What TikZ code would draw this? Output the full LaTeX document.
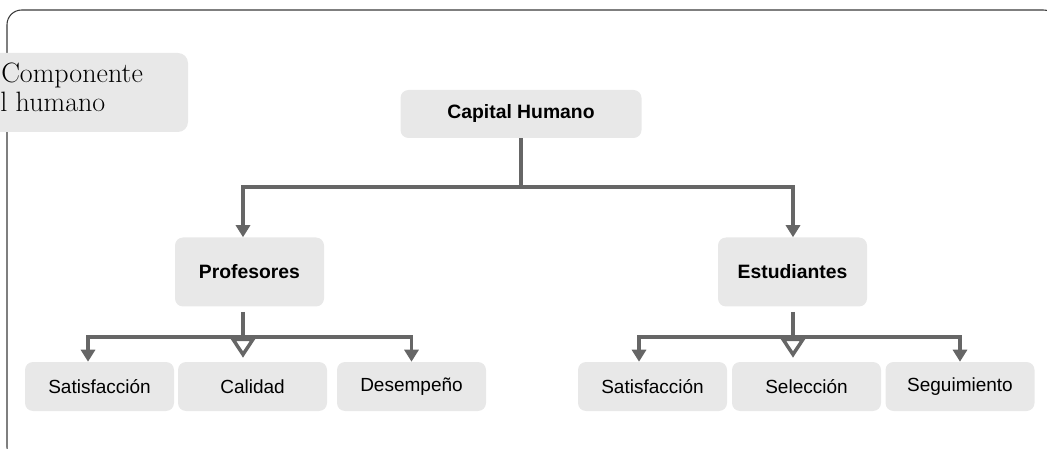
\documentclass[tikz,border=0pt]{standalone}
\usepackage{fontspec}
\setsansfont{Liberation Sans}
\usetikzlibrary{arrows.meta}
\definecolor{boxfill}{HTML}{E8E8E8}
\definecolor{linkgray}{HTML}{666666}
\definecolor{framegray}{HTML}{3A3A3A}
\begin{document}
\begin{tikzpicture}[x=0.75pt,y=-0.75pt,
  box/.style={fill=boxfill, rounded corners=6pt, inner sep=0pt,
    minimum width=111.75pt, minimum height=36.75pt,
    font=\sffamily\fontsize{14.25pt}{17pt}\selectfont},
  headbox/.style={box, minimum height=51.75pt,
    font=\sffamily\bfseries\fontsize{14.5pt}{17pt}\selectfont},
  link/.style={draw=linkgray, line width=2.6pt},
  tip/.style={-{Triangle[width=10.5pt,length=9pt]}},
  opentip/.style={-{Triangle[open,width=19pt,length=15pt]}},
  serifname/.style={inner sep=0pt, anchor=base west,
    font=\fontsize{21pt}{25pt}\selectfont},
]
\useasboundingbox (0,0) rectangle (1047,449);
\begin{scope}
\clip (0,0) rectangle (1047,449);
% outer frame
\draw[framegray, line width=0.8pt, rounded corners=11pt] (7,10) rectangle (1058,462);
% side label
\node[fill=boxfill, rounded corners=7.5pt, minimum width=156pt,
      minimum height=59.25pt, inner sep=0pt] (comp) at (84,92.5) {};
\node[serifname] (compa) at (1,83) {Componente};
\node[serifname] (compb) at (0,112) {l humano};

% tree nodes
\node[headbox, minimum width=180.75pt, minimum height=36pt] (cap) at (521,114) {Capital Humano};
\node[headbox] (prof) at (249.5,272) {Profesores};
\node[headbox] (est) at (792.5,272) {Estudiantes};

\node[box] (sat1) at (99.5,386.5) {Satisfacción};
\node[box] (cal) at (252.5,386.5) {Calidad};
\node[box] (des) at (411.5,386.5) {Desempeño};
\node[box] (sat2) at (652.5,386.5) {Satisfacción};
\node[box] (sel) at (806.5,386.5) {Selección};
\node[box] (seg) at (960,386.5) {Seguimiento};

% connector helpers
\coordinate (hub) at (521,187);
\coordinate (pcol) at (243,0);
\coordinate (psplit) at (243,337);
\coordinate (esplit) at (793,337);

% top level
\draw[link] (cap.south) -- (hub);
\draw[link,tip] (hub) -| (prof.north -| pcol);
\draw[link,tip] (hub) -| (est.north -| esplit);

% Profesores branch
\draw[link,opentip,shorten <=3.75pt,shorten >=3pt] (prof.south -| pcol) -- (cal.north -| pcol);
\draw[link,tip] (psplit) -| ([xshift=-8.6pt]sat1.north);
\draw[link,tip] (psplit) -| (des.north);

% Estudiantes branch
\draw[link,opentip,shorten <=3.75pt,shorten >=3pt] (est.south -| esplit) -- (sel.north -| esplit);
\draw[link,tip] (esplit) -| ([xshift=-10.1pt]sat2.north);
\draw[link,tip] (esplit) -| (seg.north);
\end{scope}
\end{tikzpicture}
\end{document}
